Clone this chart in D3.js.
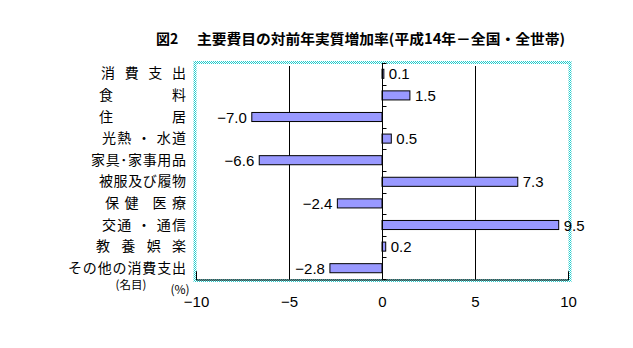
<!DOCTYPE html>
<html>
<head>
<meta charset="utf-8">
<script src="https://cdn.jsdelivr.net/npm/d3@7"></script>
<style>
  html, body { margin: 0; padding: 0; background: #fff; }
  svg { display: block; }
</style>
</head>
<body>
<svg id="chart" width="633" height="348"></svg>
<script>
// 主要費目の対前年実質増加率（平成14年、全国・全世帯）
const categories = [
  "消費支出", "食料", "住居", "光熱・水道", "家具･家事用品",
  "被服及び履物", "保健医療", "交通・通信", "教養娯楽", "その他の消費支出"
];
const labelText = [
  "消 費 支 出", "食　料", "住　居", "光熱 ・ 水道", "家具･家事用品",
  "被服及び履物", "保健 医療", "交通 ・ 通信", "教 養 娯 楽", "その他の消費支出"
];
const values = [0.1, 1.5, -7.0, 0.5, -6.6, 7.3, -2.4, 9.5, 0.2, -2.8];
const xTicks = [-10, -5, 0, 5, 10];
const titleNo = "図2";
const titleText = "主要費目の対前年実質増加率(平成14年－全国・全世帯)";
const unitLabel = "(%)";
const nominalNote = "(名目)";

const svg = d3.select("#chart");
const W = 633, H = 348;
const plot = { left: 196, right: 568, top: 63, bottom: 279 };

const x = d3.scaleLinear().domain([-10, 10]).range([plot.left, plot.right]);
const y = d3.scaleBand().domain(categories).range([plot.top, plot.bottom]).padding(0);
const bw = y.bandwidth();

const numFont = "'Liberation Sans', Arial, sans-serif";
const jpFont = "'Noto Sans CJK JP', 'Noto Sans', sans-serif";

// checkered cyan pattern for the plot frame
const defs = svg.append("defs");
const pat = defs.append("pattern")
  .attr("id", "dots").attr("width", 2).attr("height", 2)
  .attr("patternUnits", "userSpaceOnUse");
pat.append("rect").attr("width", 2).attr("height", 2).attr("fill", "#fff");
pat.append("rect").attr("x", 0).attr("y", 0).attr("width", 1).attr("height", 1).attr("fill", "#22cccc");
pat.append("rect").attr("x", 1).attr("y", 1).attr("width", 1).attr("height", 1).attr("fill", "#22cccc");

svg.append("rect").attr("width", W).attr("height", H).attr("fill", "#fff");

// title
svg.append("text")
  .attr("x", 156).attr("y", 44)
  .attr("font-family", jpFont).attr("font-weight", "bold").attr("font-size", 14)
  .text(titleNo);
svg.append("text")
  .attr("x", 197).attr("y", 44)
  .attr("font-family", jpFont).attr("font-weight", "bold").attr("font-size", 14)
  .attr("textLength", 368).attr("lengthAdjust", "spacingAndGlyphs")
  .text(titleText);

// plot frame
svg.append("rect")
  .attr("x", plot.left - 1).attr("y", plot.top - 0.5)
  .attr("width", plot.right - plot.left + 3).attr("height", plot.bottom - plot.top + 2)
  .attr("fill", "none").attr("stroke", "url(#dots)").attr("stroke-width", 3);

// vertical grid lines at ±5
svg.append("g").selectAll("line")
  .data(xTicks.filter(d => d !== 0 && Math.abs(d) !== 10))
  .join("line")
  .attr("x1", d => Math.round(x(d)) + 0.5).attr("x2", d => Math.round(x(d)) + 0.5)
  .attr("y1", plot.top + 3).attr("y2", plot.bottom)
  .attr("stroke", "#000").attr("stroke-width", 1);

// bars
svg.append("g").selectAll("rect")
  .data(categories.map((c, i) => ({ c, v: values[i] })))
  .join("rect")
  .attr("x", d => Math.min(x(0), x(d.v)))
  .attr("y", d => y(d.c) + bw * 0.29)
  .attr("width", d => Math.abs(x(d.v) - x(0)))
  .attr("height", bw * 0.42)
  .attr("fill", "#9999ff").attr("stroke", "#000").attr("stroke-width", 1);

// zero axis with category tick marks
const zx = Math.round(x(0)) + 0.5;
svg.append("line")
  .attr("x1", zx).attr("x2", zx).attr("y1", plot.top).attr("y2", plot.bottom)
  .attr("stroke", "#000");
svg.append("g").selectAll("line")
  .data(d3.range(categories.length + 1))
  .join("line")
  .attr("x1", zx).attr("x2", zx + 4)
  .attr("y1", i => Math.round(plot.top + i * bw) + 0.5)
  .attr("y2", i => Math.round(plot.top + i * bw) + 0.5)
  .attr("stroke", "#000");

// value labels
svg.append("g").selectAll("text")
  .data(categories.map((c, i) => ({ c, v: values[i] })))
  .join("text")
  .attr("x", d => d.v < 0 ? x(d.v) - 5 : x(d.v) + 5)
  .attr("y", d => y(d.c) + bw / 2 + 5.5)
  .attr("text-anchor", d => d.v < 0 ? "end" : "start")
  .attr("font-family", numFont).attr("font-size", 15)
  .text(d => (d.v < 0 ? "−" : "") + Math.abs(d.v).toFixed(1));

// bottom axis
const axis = d3.axisBottom(x).tickValues(xTicks).tickSize(-8).tickPadding(17)
  .tickFormat(d => (d < 0 ? "−" : "") + Math.abs(d));
const ax = svg.append("g").attr("transform", `translate(0,${plot.bottom + 0.5})`).call(axis);
ax.select(".domain").attr("stroke", "#000");
ax.selectAll(".tick line").attr("stroke", "#000");
ax.selectAll("text").attr("font-family", numFont).attr("font-size", 15).attr("fill", "#000");

// category labels
const labelWidth = [85, 87, 87, 84, 95, 87, 81, 84, 90, 118];
svg.append("g").selectAll("text")
  .data(categories)
  .join("text")
  .attr("x", (d, i) => 186 - labelWidth[i])
  .attr("y", d => y(d) + bw / 2 + 4.5)
  .attr("font-family", jpFont).attr("font-size", 14)
  .attr("textLength", (d, i) => labelWidth[i]).attr("lengthAdjust", "spacing")
  .text((d, i) => labelText[i]);

svg.append("text")
  .attr("x", 131).attr("y", y(categories[9]) + bw / 2 + 20.5)
  .attr("text-anchor", "middle")
  .attr("font-family", jpFont).attr("font-size", 11.5)
  .text(nominalNote);

svg.append("text")
  .attr("x", 180).attr("y", 294)
  .attr("text-anchor", "middle")
  .attr("font-family", jpFont).attr("font-size", 12)
  .text(unitLabel);
</script>
</body>
</html>
